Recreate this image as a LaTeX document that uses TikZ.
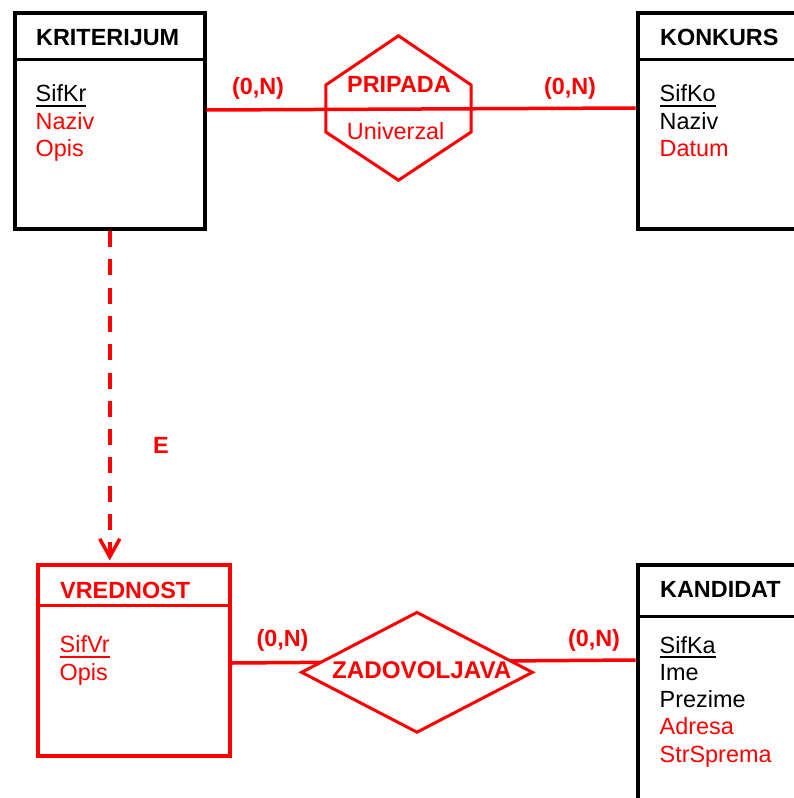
\documentclass[tikz,border=0pt]{standalone}
\usepackage{fontspec}
\setmainfont{Liberation Sans}
\usetikzlibrary{shapes.geometric,arrows.meta}
\definecolor{erred}{RGB}{255,0,0}
% underlined key attribute
\newcommand{\keyattr}[1]{\leavevmode\setbox0\hbox{#1}\rlap{\vrule height -3pt depth 5pt width \wd0}\box0}

\begin{document}
\begin{tikzpicture}[x=1pt, y=-1pt,
  font=\fontsize{23.4}{27.3}\selectfont,
  entity/.style={draw=black, line width=4pt, inner sep=0pt},
  weakentity/.style={draw=erred, line width=3.2pt, inner sep=0pt},
  divider/.style={draw=black, line width=3pt},
  weakdivider/.style={draw=erred, line width=3pt},
  title/.style={font=\fontsize{23.4}{27.3}\selectfont\bfseries, anchor=base west, inner sep=0pt},
  attrs/.style={anchor=base west, align=left, inner sep=0pt},
  card/.style={font=\fontsize{23.4}{27.3}\selectfont\bfseries, text=erred, anchor=base, inner sep=0pt},
  conn/.style={draw=erred, line width=3.5pt},
  relline/.style={draw=erred, line width=3pt, line join=miter},
  dashedge/.style={draw=erred, line width=3.5pt, dash pattern=on 16pt off 12.3pt,
    -{Straight Barb[length=18pt, width=20pt, line width=3.5pt]}, shorten >=3pt}
]
\useasboundingbox (0,0) rectangle (794,798);
\clip (0,0) rectangle (794,798);

% ---------- entities ----------
% attribute lists are placed by the baseline of their last line
\node[entity, minimum width=189.5, minimum height=216] (krit) at (109.75,121) {};
\draw[divider] ([yshift=-48pt]krit.north west) -- ([yshift=-48pt]krit.north east);
\node[title] (kritname) at (36,45) {KRITERIJUM};
\node[attrs] (kritattr) at (35.5,156.3) {\keyattr{SifKr}\\ \textcolor{erred}{Naziv}\\ \textcolor{erred}{Opis}};

\node[entity, minimum width=202.5, minimum height=216] (konk) at (738.75,121) {};
\draw[divider] ([yshift=-48pt]konk.north west) -- ([yshift=-48pt]konk.north east);
\node[title] (konkname) at (660,45.5) {KONKURS};
\node[attrs] (konkattr) at (659.5,156.3) {\keyattr{SifKo}\\ Naziv\\ \textcolor{erred}{Datum}};

\node[weakentity, minimum width=192, minimum height=191] (vred) at (134,660.5) {};
\draw[weakdivider] ([yshift=-42.3pt]vred.north west) -- ([yshift=-42.3pt]vred.north east);
\node[title, text=erred] (vredname) at (60,598) {VREDNOST};
\node[attrs, text=erred] (vredattr) at (59.5,680) {\keyattr{SifVr}\\ Opis};

\node[entity, minimum width=202.5, minimum height=285] (kand) at (738.75,707.5) {};
\draw[divider] ([yshift=-53.5pt]kand.north west) -- ([yshift=-53.5pt]kand.north east);
\node[title] (kandname) at (660,597.7) {KANDIDAT};
\node[attrs] (kandattr) at (659.5,762.2) {\keyattr{SifKa}\\ Ime\\ Prezime\\ \textcolor{erred}{Adresa}\\ \textcolor{erred}{StrSprema}};

% ---------- relationship PRIPADA ----------
\node[inner sep=0pt, minimum width=145, minimum height=144] (prip) at (398.5,108) {};
\draw[conn] ([yshift=11pt]krit.east) -- ([yshift=13pt]konk.west);
\draw[relline] (prip.north) -- ([yshift=23pt]prip.east) -- ([yshift=-24pt]prip.east)
  -- (prip.south) -- ([yshift=-24pt]prip.west) -- ([yshift=23pt]prip.west) -- cycle;
\node[card] (pripname) at (399,92.7) {PRIPADA};
\node[attrs, text=erred] (pripattr) at (346.7,139) {Univerzal};
\node[card] (c1) at (258,94) {(0,N)};
\node[card] (c2) at (570,94) {(0,N)};

% ---------- relationship ZADOVOLJAVA ----------
\draw[conn] ([yshift=-2.5pt]vred.east) -- ([yshift=47.5pt]kand.west);
\node[diamond, draw=erred, fill=white, line width=3pt, inner sep=0pt,
  minimum width=232, minimum height=121] (zad) at (417,672.3) {};
\node[card, font=\fontsize{24.2}{28}\selectfont\bfseries] (zadname) at (421.7,678.3) {ZADOVOLJAVA};
\node[card] (c3) at (282.5,646) {(0,N)};
\node[card] (c4) at (594,646.5) {(0,N)};

% ---------- existence dependency ----------
\draw[dashedge] (krit.south) -- (krit.south |- vred.north);
\node[card] (elabel) at (161,453) {E};
\end{tikzpicture}
\end{document}
